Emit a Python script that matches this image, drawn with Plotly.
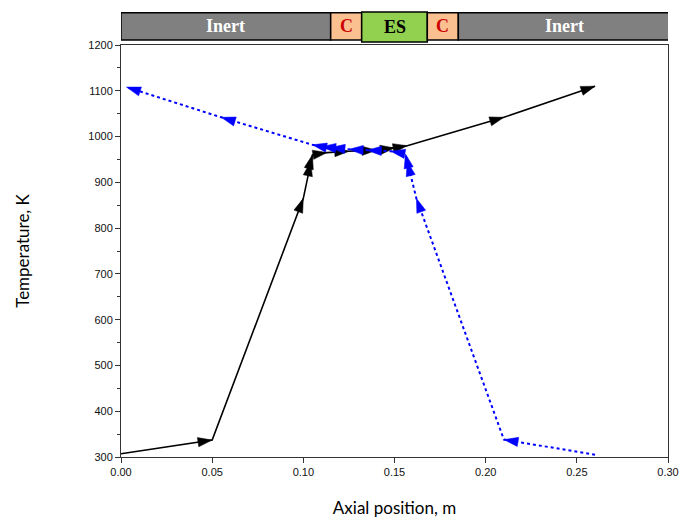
import plotly.graph_objects as go

# Heating path (black, solid) - axial position (m), temperature (K)
black_x = [0.0, 0.05, 0.100, 0.104, 0.105, 0.113, 0.125, 0.140, 0.150, 0.157, 0.210, 0.260]
black_T = [307, 337, 865, 945, 960, 965, 968, 970, 975, 980, 1042, 1110]

# Cooling path (blue, dotted), listed in direction of travel
blue_x = [0.260, 0.210, 0.162, 0.157, 0.156, 0.148, 0.135, 0.125, 0.115, 0.110, 0.105, 0.055, 0.003]
blue_T = [305, 338, 865, 945, 962, 968, 970, 972, 976, 978, 982, 1042, 1108]

# Reactor zones along the axis
zone_labels = ["Inert", "C", "ES", "C", "Inert"]
zone_edges = [0.0, 0.115, 0.132, 0.168, 0.185, 0.301]
zone_fill = ["#808080", "#FAC090", "#92D050", "#FAC090", "#808080"]
zone_text = ["white", "#CC0000", "black", "#CC0000", "white"]

x_ticks = [0.0, 0.05, 0.10, 0.15, 0.20, 0.25, 0.30]
y_ticks = [300, 400, 500, 600, 700, 800, 900, 1000, 1100, 1200]

fig = go.Figure()

def add_path(xs, ys, color, dash, width):
    fig.add_trace(go.Scatter(
        x=xs, y=ys, mode="lines",
        line=dict(color=color, dash=dash, width=width),
        hoverinfo="skip", showlegend=False))
    fig.add_trace(go.Scatter(
        x=xs, y=ys, mode="markers",
        marker=dict(symbol="arrow", angleref="previous",
                    size=[0] + [15] * (len(xs) - 1),
                    color=color, opacity=1, line=dict(width=0.5, color=color)),
        hoverinfo="skip", showlegend=False))

add_path(black_x, black_T, "black", "solid", 1.6)
add_path(blue_x, blue_T, "#0000FF", "dot", 2)

# zone bar above plot
for i, lab in enumerate(zone_labels):
    y0, y1 = 1.012, 1.078
    if lab == "ES":
        y0, y1 = 1.007, 1.080
    fig.add_shape(type="rect", xref="x", yref="paper",
                  x0=zone_edges[i], x1=zone_edges[i + 1], y0=y0, y1=y1,
                  fillcolor=zone_fill[i], line=dict(color="black", width=1.5))
    fig.add_annotation(x=(zone_edges[i] + zone_edges[i + 1]) / 2, y=(y0 + y1) / 2,
                       xref="x", yref="paper", xanchor="center", yanchor="middle",
                       text="<b>%s</b>" % lab, showarrow=False,
                       font=dict(family="Liberation Serif", size=18, color=zone_text[i]))

fig.update_layout(
    width=682, height=523,
    margin=dict(l=121, r=14, t=45, b=66),
    plot_bgcolor="white", paper_bgcolor="white",
    font=dict(family="Liberation Sans", size=11, color="#111111"),
)
fig.update_xaxes(
    range=[0, 0.30], tickvals=x_ticks, tickformat=".2f", automargin=False,
    showgrid=False, zeroline=False,
    showline=True, linecolor="#333333", linewidth=1, mirror=True,
    ticks="outside", ticklen=5, tickcolor="#333333",
    title=dict(text="Axial position, m", font=dict(family="Lato", size=17, color="black"), standoff=24),
)
fig.update_yaxes(
    range=[300, 1200], tickvals=y_ticks, automargin=False,
    showgrid=False, zeroline=False,
    showline=True, linecolor="#333333", linewidth=1, mirror=True,
    ticks="outside", ticklen=5, tickcolor="#333333",
    minor=dict(dtick=50, ticks="outside", ticklen=3, tickcolor="#333333", showgrid=False),
    title=dict(text="Temperature, K", font=dict(family="Lato", size=17, color="black"), standoff=54),
)

fig.write_html("out.html")
